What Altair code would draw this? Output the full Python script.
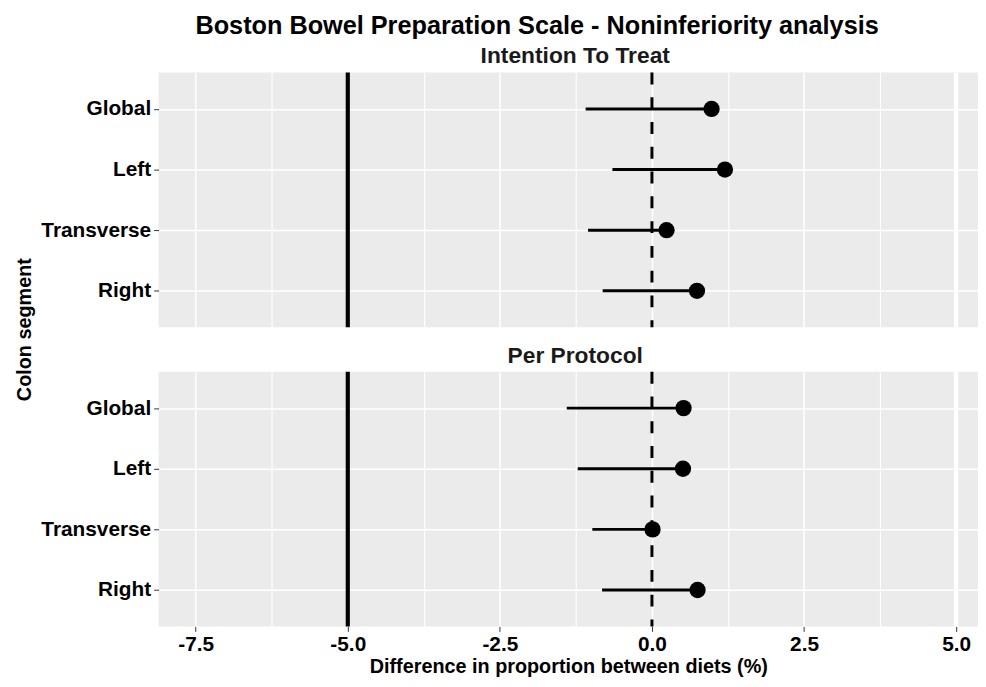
import altair as alt
import pandas as pd

segments = ["Global", "Left", "Transverse", "Right"]
itt_lower = [-1.09, -0.65, -1.05, -0.81]
itt_estimate = [0.98, 1.20, 0.24, 0.74]
pp_lower = [-1.40, -1.22, -0.98, -0.82]
pp_estimate = [0.52, 0.51, 0.01, 0.75]
x_ticks = [-7.5, -6.25, -5.0, -3.75, -2.5, -1.25, 0.0, 1.25, 2.5, 3.75, 5.0]
x_domain = [-8.11, 5.36]
margin_line = [-5.0]
zero_line = [0.0]
edge_line = [5.0]

FONT = "Liberation Sans"
W, H = 827, 257
MINOR = "abs(datum.value/2.5 - round(datum.value/2.5)) > 0.01"
LABEL = f"{MINOR} ? '' : (datum.value < 0 ? '-' : '') + format(abs(datum.value), '.1f')"


def panel(title, lower, est, bottom, tdx):
    df = pd.DataFrame({"segment": segments, "lower": lower, "estimate": est})
    xaxis = alt.Axis(
        values=x_ticks,
        grid=True,
        gridColor="white",
        gridWidth={"condition": {"test": MINOR, "value": 1.1}, "value": 1.5},
        domain=False,
        labels=bottom,
        ticks=bottom,
        tickOpacity={"condition": {"test": MINOR, "value": 0}, "value": 1},
        tickColor="#333333",
        tickSize=5,
        labelExpr=LABEL,
        labelFont=FONT,
        labelFontSize=21,
        labelFontWeight="bold",
        labelColor="black",
        labelPadding=2,
        title="Difference in proportion between diets (%)" if bottom else None,
        titleFont=FONT,
        titleFontSize=20,
        titleFontWeight="bold",
        titleColor="black",
        titlePadding=3,
    )
    yaxis_kwargs = dict(
        domain=False,
        grid=True,
        gridColor="white",
        gridWidth=1.5,
        tickColor="#333333",
        tickSize=5,
        labelFont=FONT,
        labelFontSize=21,
        labelFontWeight="bold",
        labelColor="black",
        labelPadding=3,
    )
    if not bottom:
        yaxis = alt.Axis(
            title="Colon segment",
            titleFont=FONT,
            titleFontSize=20,
            titleFontWeight="bold",
            titleColor="black",
            titleAngle=-90,
            titleAlign="center",
            titleBaseline="bottom",
            titleX=-125,
            titleY=259,
            **yaxis_kwargs,
        )
    else:
        yaxis = alt.Axis(title=None, **yaxis_kwargs)

    xs = alt.Scale(domain=x_domain, nice=False, zero=False)
    ys = alt.Scale(type="point", padding=0.6, domain=segments)

    base = alt.Chart(df)
    pts = base.mark_circle(size=270, color="black", opacity=1).encode(
        x=alt.X("estimate:Q", scale=xs, axis=xaxis),
        y=alt.Y("segment:N", scale=ys, axis=yaxis, sort=segments),
    )
    segs = base.mark_rule(color="black", strokeWidth=3).encode(
        x=alt.X("lower:Q", scale=xs, axis=xaxis),
        x2="estimate:Q",
        y=alt.Y("segment:N", scale=ys, sort=segments, axis=yaxis),
    )
    r_margin = alt.Chart(pd.DataFrame({"v": margin_line})).mark_rule(
        color="black", strokeWidth=4.2
    ).encode(x=alt.X("v:Q", scale=xs, axis=xaxis))
    r_zero = alt.Chart(pd.DataFrame({"v": zero_line})).mark_rule(
        color="black", strokeWidth=3, strokeDash=[12, 13]
    ).encode(x=alt.X("v:Q", scale=xs, axis=xaxis))
    r_edge = alt.Chart(pd.DataFrame({"v": edge_line})).mark_rule(
        color="white", strokeWidth=4.5
    ).encode(x=alt.X("v:Q", scale=xs, axis=xaxis))

    return alt.layer(r_edge, r_margin, r_zero, segs, pts).properties(
        width=W,
        height=H,
        title=alt.TitleParams(
            title,
            font=FONT,
            fontSize=23,
            fontWeight="bold",
            color="#1a1a1a",
            anchor="middle",
            frame="group",
            offset=2,
            dx=tdx,
        ),
    )


top = panel("Intention To Treat", itt_lower, itt_estimate, False, 7)
bot = panel("Per Protocol", pp_lower, pp_estimate, True, 7)

chart = (
    alt.vconcat(top, bot, spacing=45, bounds="flush")
    .properties(
        title=alt.TitleParams(
            "Boston Bowel Preparation Scale - Noninferiority analysis",
            font=FONT,
            fontSize=25.5,
            fontWeight="bold",
            color="black",
            anchor="middle",
            dx=41,
            offset=6,
        ),
        padding={"left": 7, "top": 3, "right": 0, "bottom": 0},
        background="white",
    )
    .configure_view(fill="#EBEBEB", stroke=None)
)

chart.save("out.html", embed_options={"renderer": "svg", "actions": False})
